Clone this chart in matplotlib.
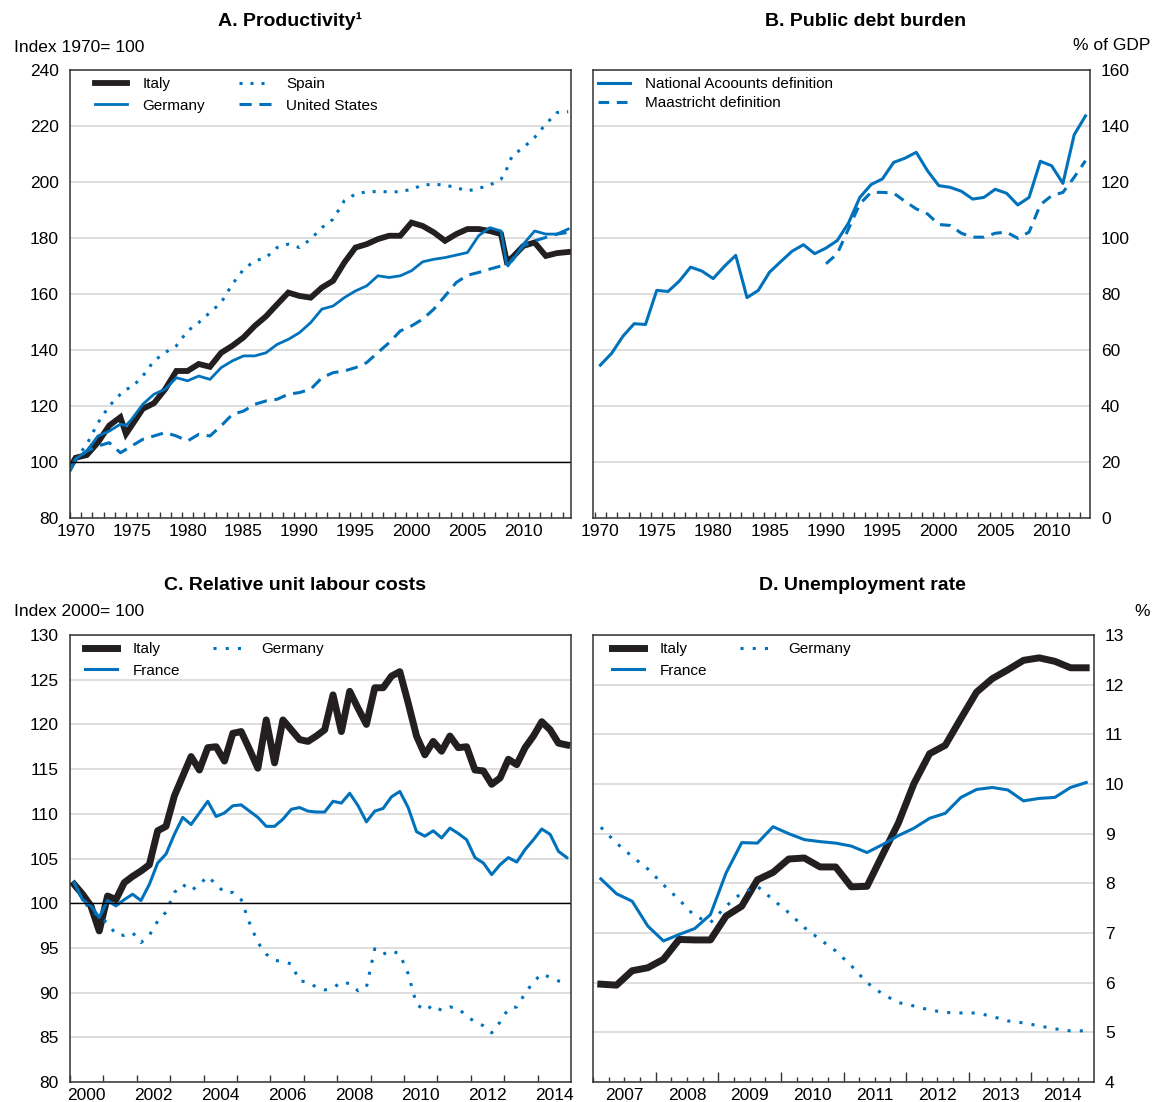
import numpy as np
import matplotlib.pyplot as plt

plt.rcParams['font.family'] = ['Liberation Sans', 'DejaVu Sans']

#%% Datos

# A. Productividad (indice 1970 = 100), lecturas a mitad de año
prod_t = [1970.0, 1970.5, 1971.5, 1972.5, 1973.5, 1974.5, 1975.0, 1975.5, 1976.5, 1977.5,
          1978.5, 1979.5, 1980.5, 1981.5, 1982.5, 1983.5, 1984.5, 1985.5, 1986.5, 1987.5,
          1988.5, 1989.5, 1990.5, 1991.5, 1992.5, 1993.5, 1994.5, 1995.5, 1996.5, 1997.5,
          1998.5, 1999.5, 2000.5, 2001.5, 2002.5, 2003.5, 2004.5, 2005.5, 2006.5, 2007.5,
          2008.5, 2009.0, 2009.5, 2010.5, 2011.5, 2012.5, 2013.5, 2014.5]
prod_italy = [98.0, 101.5, 102.5, 107.0, 113.0, 116.0, 110.0, 113.0, 119.0, 121.0,
              126.0, 132.5, 132.5, 135.0, 134.0, 139.0, 141.5, 144.5, 148.6, 152.0,
              156.3, 160.5, 159.3, 158.7, 162.3, 164.7, 171.2, 176.6, 177.8, 179.6,
              180.8, 180.8, 185.5, 184.3, 182.0, 179.0, 181.4, 183.2, 183.2, 182.5,
              181.4, 171.8, 173.0, 177.2, 178.4, 173.6, 174.6, 175.0]
prod_germany = [96.8, 101.0, 104.0, 109.3, 111.0, 113.5, 113.0, 115.2, 120.6, 124.2,
                126.0, 130.1, 129.0, 130.7, 129.5, 133.7, 136.1, 137.9, 137.9, 139.0,
                142.0, 143.8, 146.2, 149.8, 154.6, 155.7, 158.7, 161.1, 162.9, 166.5,
                165.9, 166.5, 168.3, 171.5, 172.4, 173.0, 173.9, 174.8, 180.8, 183.7,
                182.5, 170.6, 171.8, 177.8, 182.5, 181.4, 181.4, 183.2]
prod_spain = [97.4, 101.0, 106.3, 114.0, 120.0, 124.2, 126.0, 126.6, 130.7, 136.1,
              139.1, 141.5, 146.8, 149.8, 153.4, 156.9, 163.5, 168.8, 171.8, 173.0,
              176.6, 177.8, 176.6, 179.6, 183.7, 186.7, 193.3, 195.7, 196.5, 196.6,
              196.5, 196.5, 197.4, 198.9, 199.2, 198.9, 198.0, 196.8, 197.7, 198.9,
              201.0, 204.6, 209.4, 212.3, 215.9, 220.7, 224.8, 225.1]
prod_us = [97.4, 101.0, 103.9, 105.7, 106.9, 103.3, 104.5, 105.7, 108.1, 109.3,
           110.5, 109.3, 107.5, 109.9, 109.3, 112.9, 117.0, 118.2, 120.6, 121.8,
           122.4, 124.2, 124.8, 126.0, 130.1, 131.9, 132.5, 133.7, 135.5, 139.1,
           142.6, 146.8, 148.6, 151.0, 154.6, 159.3, 164.1, 166.7, 167.7, 168.9,
           170.0, 169.4, 172.4, 177.2, 179.0, 180.2, 181.4, 182.0]

# B. Deuda publica (% del PIB), anual
deuda_anios = np.arange(1970, 2014)
deuda_nacional = [54.6, 58.8, 64.9, 69.4, 69.1, 81.3, 80.9, 84.6, 89.6, 88.2,
                  85.5, 89.9, 93.8, 78.7, 81.3, 87.8, 91.6, 95.3, 97.6, 94.4,
                  96.4, 99.1, 105.4, 114.5, 119.1, 121.1, 127.0, 128.5, 130.6, 124.0,
                  118.7, 118.1, 116.7, 113.9, 114.5, 117.4, 116.0, 111.8, 114.5, 127.4,
                  125.8, 119.5, 136.9, 143.6]
maastricht_anios = np.arange(1990, 2014)
deuda_maastricht = [90.8, 94.4, 103.3, 112.2, 116.3, 116.3, 116.0, 113.1, 110.4, 108.6,
                    104.8, 104.5, 101.7, 100.3, 100.3, 101.7, 102.1, 99.9, 102.1, 111.9,
                    115.1, 116.3, 121.7, 127.6]

# C. Costos laborales unitarios relativos (2000 = 100), trimestral 2000T1-2014T4
ulc_italy = [102.1, 101.0, 99.7, 96.9, 100.8, 100.4, 102.3, 103.0, 103.6, 104.3,
             108.1, 108.6, 112.0, 114.2, 116.4, 114.9, 117.4, 117.5, 115.9, 119.0,
             119.2, 117.2, 115.1, 120.5, 115.7, 120.5, 119.4, 118.3, 118.1, 118.7,
             119.4, 123.3, 119.2, 123.7, 121.8, 120.0, 124.1, 124.1, 125.4, 125.9,
             122.4, 118.7, 116.6, 118.1, 117.0, 118.7, 117.4, 117.5, 114.9, 114.8,
             113.3, 114.0, 116.1, 115.5, 117.4, 118.7, 120.3, 119.4, 117.9, 117.7]
ulc_france = [102.3, 100.4, 99.7, 98.4, 100.3, 99.7, 100.4, 101.0, 100.3, 102.1,
              104.5, 105.5, 107.7, 109.6, 108.8, 110.1, 111.4, 109.7, 110.1, 110.9,
              111.0, 110.3, 109.6, 108.6, 108.6, 109.4, 110.5, 110.7, 110.3, 110.2,
              110.2, 111.4, 111.2, 112.3, 110.9, 109.1, 110.3, 110.6, 111.9, 112.5,
              110.7, 108.0, 107.5, 108.1, 107.3, 108.4, 107.8, 107.1, 105.1, 104.5,
              103.2, 104.3, 105.1, 104.6, 106.0, 107.1, 108.3, 107.7, 105.8, 105.1]
ulc_germany = [102.3, 100.3, 99.3, 98.4, 97.8, 96.5, 96.4, 96.7, 95.6, 96.4,
               98.0, 99.0, 101.2, 102.1, 101.4, 102.1, 103.0, 102.1, 101.2, 101.2,
               100.4, 97.8, 95.6, 94.3, 93.6, 93.5, 93.2, 91.3, 91.2, 90.6,
               90.3, 90.5, 91.2, 91.0, 90.2, 90.6, 94.9, 94.3, 94.7, 94.3,
               92.1, 88.7, 88.0, 88.6, 88.0, 88.4, 88.2, 87.4, 86.7, 86.3,
               85.5, 86.7, 88.2, 88.4, 89.9, 91.2, 92.1, 91.7, 91.3, 91.2]

# D. Tasa de desempleo (%), trimestral 2007T1-2014T4
des_italy = [5.97, 5.95, 6.24, 6.30, 6.47, 6.87, 6.86, 6.86, 7.34, 7.54,
             8.07, 8.22, 8.49, 8.51, 8.33, 8.33, 7.93, 7.94, 8.58, 9.21,
             10.01, 10.61, 10.78, 11.32, 11.85, 12.12, 12.30, 12.49, 12.54, 12.47,
             12.34, 12.34]
des_france = [8.09, 7.79, 7.64, 7.14, 6.84, 6.97, 7.09, 7.37, 8.21, 8.82,
              8.81, 9.14, 9.00, 8.88, 8.84, 8.81, 8.75, 8.62, 8.78, 8.96,
              9.11, 9.31, 9.41, 9.73, 9.89, 9.93, 9.88, 9.66, 9.71, 9.73,
              9.93, 10.03]
des_germany = [9.13, 8.81, 8.54, 8.29, 7.97, 7.67, 7.34, 7.21, 7.54, 7.81,
               7.94, 7.67, 7.41, 7.11, 6.87, 6.64, 6.34, 6.00, 5.77, 5.60,
               5.53, 5.45, 5.40, 5.39, 5.39, 5.32, 5.23, 5.19, 5.13, 5.07,
               5.03, 5.03]


def trimestres(anio_inicio, n):
    # posicion a mitad de cada trimestre
    q = np.arange(n)
    return anio_inicio + (q + 0.5) / 4


#%% Estilo

AZUL = "#0072bc"
NEGRO = "#231f20"
GRIS = "#d4d4d4"
FS_TICK = 12.5
FS_LEG = 11

fig = plt.figure(figsize=(11.57, 11.02), dpi=100)
W, H = 1157, 1102


def ejes(left, top, right, bottom):
    return fig.add_axes([left / W, 1 - bottom / H, (right - left) / W, (bottom - top) / H])


def formato(ax, derecha=False):
    for s in ax.spines.values():
        s.set_color("#333333")
        s.set_linewidth(1.1)
    ax.yaxis.grid(True, color=GRIS, linewidth=1.1)
    ax.set_axisbelow(True)
    ax.tick_params(axis="y", length=0, labelsize=FS_TICK, pad=8)
    if derecha:
        ax.yaxis.tick_right()
    ax.tick_params(axis="x", which="both", direction="in", labelsize=FS_TICK, colors="#333333",
                   labelcolor="black")


def eje_x_anual(ax, x0, x1, labels, largo=4):
    ax.set_xlim(x0, x1)
    ax.set_xticks(np.arange(np.ceil(x0), x1))
    ax.set_xticklabels([])
    ax.set_xticks([y + 0.5 for y in labels], minor=True)
    ax.set_xticklabels([str(y) for y in labels], minor=True)
    ax.tick_params(axis="x", which="major", length=largo, width=1)
    ax.tick_params(axis="x", which="minor", length=0, pad=4)


def leyenda(ax, x_px, ncol=2, spacing=0.5):
    # x_px: distancia en pixeles desde el borde izquierdo del eje
    ancho = ax.get_position().width * W
    alto = ax.get_position().height * H
    ax.legend(ncol=ncol, loc="upper left", bbox_to_anchor=(x_px / ancho, 1 - 7 / alto),
              frameon=False, fontsize=FS_LEG, handlelength=2.1, handletextpad=1.0,
              columnspacing=2.2, borderaxespad=0, borderpad=0, labelspacing=spacing)


#%% A. Productividad
axA = ejes(70, 70, 571, 518)
formato(axA)
axA.plot(prod_t, prod_italy, color=NEGRO, lw=4.2, label="Italy", solid_joinstyle="miter")
axA.plot(prod_t, prod_germany, color=AZUL, lw=2.0, label="Germany")
axA.plot(prod_t, prod_spain, color=AZUL, lw=2.2, ls=(0, (1, 2.6)), label="Spain")
axA.plot(prod_t, prod_us, color=AZUL, lw=2.2, ls=(0, (4, 2.5)), label="United States")
axA.axhline(100, color="black", lw=1)
axA.set_ylim(80, 240)
axA.set_yticks(np.arange(80, 241, 20))
eje_x_anual(axA, 1970, 2014.75, [1970, 1975, 1980, 1985, 1990, 1995, 2000, 2005, 2010])
leyenda(axA, 25)

#%% B. Deuda publica
axB = ejes(593, 70, 1090, 518)
formato(axB, derecha=True)
axB.plot(deuda_anios + 0.5, deuda_nacional, color=AZUL, lw=2.2, label="National Acoounts definition")
axB.plot(maastricht_anios + 0.5, deuda_maastricht, color=AZUL, lw=2.2, ls=(0, (3.5, 2.5)),
         label="Maastricht definition")
axB.set_ylim(0, 160)
axB.set_yticks(np.arange(0, 161, 20))
eje_x_anual(axB, 1969.85, 2013.9, [1970, 1975, 1980, 1985, 1990, 1995, 2000, 2005, 2010])
leyenda(axB, 5, ncol=1, spacing=0.35)

#%% C. Costos laborales unitarios
axC = ejes(70, 635, 571, 1082)
formato(axC)
tC = trimestres(2000, len(ulc_italy))
axC.plot(tC, ulc_italy, color=NEGRO, lw=5, label="Italy")
axC.plot(tC, ulc_france, color=AZUL, lw=2.2, label="France")
axC.plot(tC, ulc_germany, color=AZUL, lw=2.2, ls=(0, (1, 3)), label="Germany")
axC.axhline(100, color="black", lw=1)
axC.set_ylim(80, 130)
axC.set_yticks(np.arange(80, 131, 5))
eje_x_anual(axC, 2000, 2015, list(range(2000, 2015, 2)), largo=5)
leyenda(axC, 15)

#%% D. Desempleo
axD = ejes(593, 635, 1094, 1082)
formato(axD, derecha=True)
tD = trimestres(2007, len(des_italy))
axD.plot(tD, des_italy, color=NEGRO, lw=5, label="Italy")
axD.plot(tD, des_france, color=AZUL, lw=2.2, label="France")
axD.plot(tD, des_germany, color=AZUL, lw=2.2, ls=(0, (1, 3)), label="Germany")
axD.set_ylim(4, 13)
axD.set_yticks(np.arange(4, 14, 1))
axD.set_xlim(2007, 2015)
axD.set_xticks(np.arange(2008, 2015))
axD.set_xticklabels([])
axD.set_xticks(np.arange(2007, 2015, 0.25), minor=True)
axD.set_xticklabels(["%d" % y if (y - 0.5) % 1 == 0 else "" for y in np.arange(2007, 2015, 0.25)],
                    minor=True)
axD.tick_params(axis="x", which="major", length=7, width=1)
axD.tick_params(axis="x", which="minor", length=3.5, width=1, pad=4)
leyenda(axD, 19)

#%% Titulos y unidades
fig.text(290 / W, 1 - 21 / H, "A. Productivity¹", ha="center", va="center", fontsize=14, fontweight="bold")
fig.text(866 / W, 1 - 21 / H, "B. Public debt burden", ha="center", va="center", fontsize=14, fontweight="bold")
fig.text(295 / W, 1 - 586 / H, "C. Relative unit labour costs", ha="center", va="center", fontsize=14,
         fontweight="bold")
fig.text(862 / W, 1 - 586 / H, "D. Unemployment rate", ha="center", va="center", fontsize=14, fontweight="bold")
fig.text(14 / W, 1 - 47 / H, "Index 1970= 100", ha="left", va="center", fontsize=FS_TICK)
fig.text(1150 / W, 1 - 45 / H, "% of GDP", ha="right", va="center", fontsize=FS_TICK)
fig.text(14 / W, 1 - 612 / H, "Index 2000= 100", ha="left", va="center", fontsize=FS_TICK)
fig.text(1150 / W, 1 - 612 / H, "%", ha="right", va="center", fontsize=FS_TICK)

plt.savefig("out.png", dpi=100)
